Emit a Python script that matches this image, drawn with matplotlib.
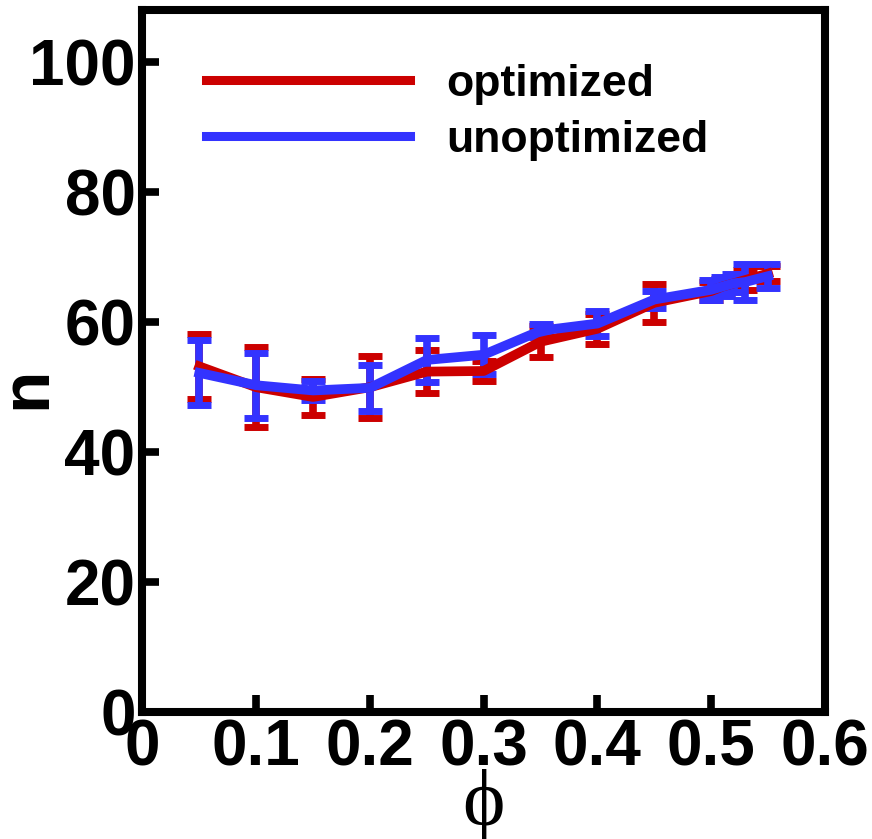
import matplotlib
matplotlib.use("Agg")
import matplotlib.pyplot as plt
from matplotlib.lines import Line2D

# Mean cluster size n versus volume fraction phi, with error bars
phi = [0.05, 0.10, 0.15, 0.20, 0.25, 0.30, 0.35, 0.40, 0.45, 0.50, 0.51, 0.52, 0.53, 0.55]
n_opt = [53.2, 50.0, 48.5, 50.0, 52.4, 52.5, 57.0, 59.0, 63.0, 64.8, 65.5, 66.0, 66.5, 67.5]
err_opt = [5.0, 6.2, 2.8, 4.8, 3.3, 1.5, 2.4, 2.3, 2.9, 1.4, 1.2, 1.0, 1.5, 1.2]
n_unopt = [52.2, 50.3, 49.5, 49.9, 54.2, 55.0, 58.7, 59.8, 63.5, 65.0, 65.5, 66.0, 66.2, 67.1]
err_unopt = [5.0, 5.0, 1.5, 3.5, 3.4, 3.0, 1.0, 1.9, 1.3, 1.5, 1.4, 1.4, 2.7, 1.9]

xticks = [0, 0.1, 0.2, 0.3, 0.4, 0.5, 0.6]
xticklabels = ["0", "0.1", "0.2", "0.3", "0.4", "0.5", "0.6"]
yticks = [0, 20, 40, 60, 80, 100]
yticklabels = ["0", "20", "40", "60", "80", "100"]

RED = "#cc0000"
BLUE = "#3333ff"

plt.rcParams["font.family"] = ["Liberation Sans", "DejaVu Sans"]
plt.rcParams["font.weight"] = "bold"

fig = plt.figure(figsize=(8.72, 8.39), dpi=100)
ax = fig.add_axes([0.1634, 0.1514, 0.7826, 0.8361])

style = dict(lw=7, elinewidth=5.5, capsize=8.3, capthick=5)
ax.errorbar(phi, n_opt, yerr=err_opt, color=RED, label="optimized", **style)
ax.errorbar(phi, n_unopt, yerr=err_unopt, color=BLUE, label="unoptimized", **style)

ax.set_xlim(0, 0.6)
ax.set_ylim(0, 108)
ax.set_xticks(xticks)
ax.set_xticklabels(xticklabels)
ax.set_yticks(yticks)
ax.set_yticklabels(yticklabels)

for s in ax.spines.values():
    s.set_linewidth(5.8)
ax.tick_params(direction="in", length=12, width=5.5, labelsize=46, pad=5,
               top=False, right=False)
for lab in ax.get_xticklabels() + ax.get_yticklabels():
    lab.set_fontweight("bold")

ax.set_ylabel("n", fontsize=50, fontweight="bold")
ax.yaxis.set_label_coords(-0.122, 0.4615)
ax.set_xlabel("\u03d5", fontsize=58, fontweight="normal",
              family=["Liberation Serif", "DejaVu Serif"], labelpad=-7)

labels = ["optimized", "unoptimized"]
handles = [Line2D([], [], color=RED, lw=6.5), Line2D([], [], color=BLUE, lw=6.5)]
ax.legend(handles, labels, loc="upper left", bbox_to_anchor=(0.034, 0.981),
          frameon=False, handlelength=4.6, handletextpad=0.82,
          labelspacing=0.34, prop={"weight": "bold", "size": 32})

fig.savefig("out.png", dpi=100)
